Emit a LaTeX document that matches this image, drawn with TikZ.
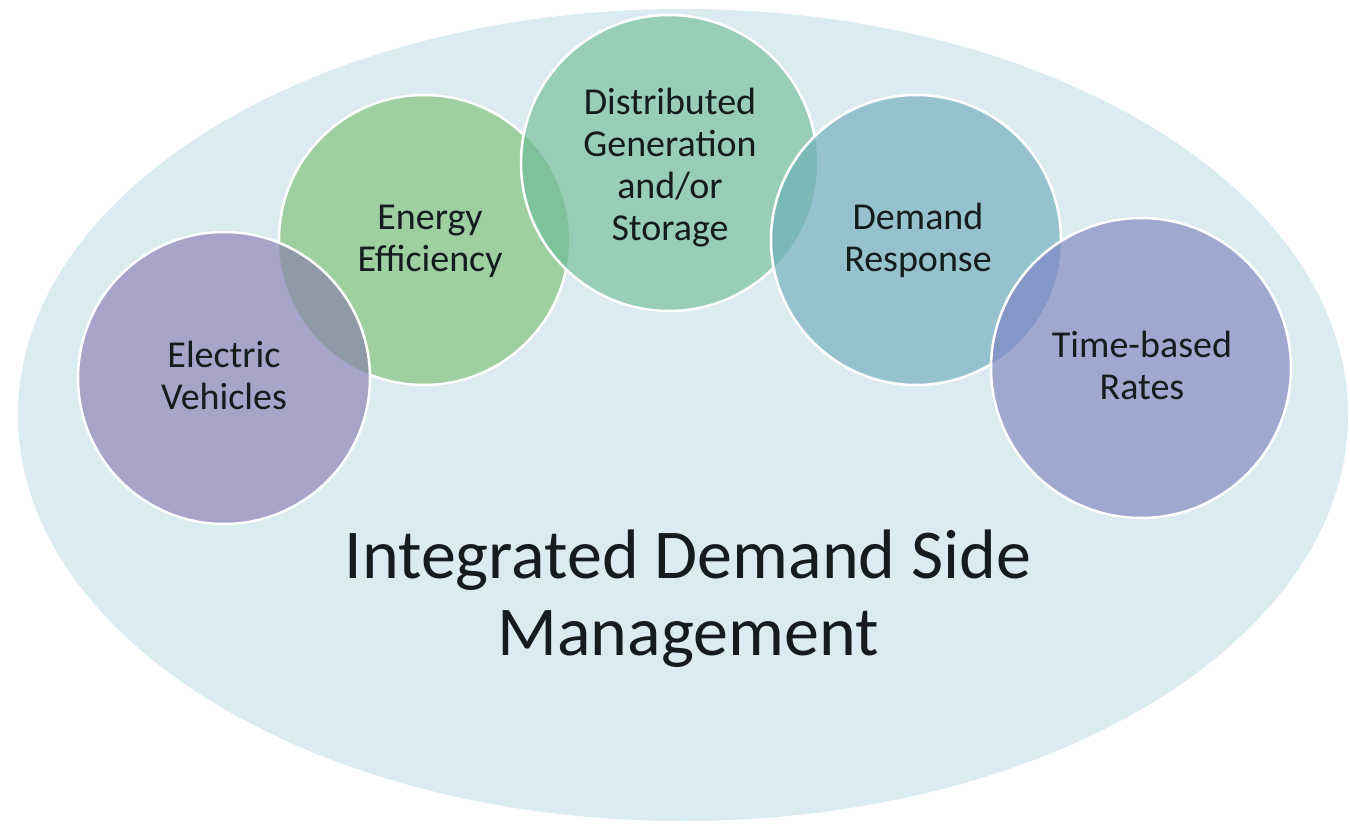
\documentclass[tikz,border=0pt]{standalone}
\usepackage{fontspec}
\setmainfont{Carlito}
\definecolor{bgell}{RGB}{219,236,241}
\definecolor{cev}{RGB}{168,163,201}
\definecolor{cee}{RGB}{157,207,160}
\definecolor{cdg}{RGB}{152,205,184}
\definecolor{cdr}{RGB}{150,194,206}
\definecolor{ctr}{RGB}{159,169,207}
\definecolor{lensA}{RGB}{143,154,168}
\definecolor{lensB}{RGB}{125,194,152}
\definecolor{lensC}{RGB}{123,185,185}
\definecolor{lensD}{RGB}{133,151,198}
\definecolor{txt}{RGB}{20,28,30}
\begin{document}
\begin{tikzpicture}[x=1pt,y=-1pt,
  disc/.style={white, line width=2.5pt},
  lbl/.style={font=\fontsize{38}{42}\selectfont, align=center, text=txt, inner sep=0pt},
  ttl/.style={font=\fontsize{70}{77}\selectfont, align=center, text=txt, inner sep=0pt}]
\useasboundingbox (0,0) rectangle (1350,826);
\fill[white] (0,0) rectangle (1350,826);
\coordinate (ell) at (683,415);
\coordinate (ev) at (224,378);
\coordinate (ee) at (424,240);
\coordinate (dg) at (669,163);
\coordinate (dr) at (916,240);
\coordinate (tr) at (1141,368);
\fill[bgell] (ell) ellipse [x radius=665pt, y radius=406pt];
% Energy Efficiency
\fill[cee] (ee) circle [radius=145pt];
\draw[disc] (ee) circle [radius=145pt];
% Electric Vehicles
\fill[cev] (ev) circle [radius=146pt];
\begin{scope}
  \clip (ee) circle [radius=145pt];
  \fill[lensA] (ev) circle [radius=146pt];
\end{scope}
\draw[disc] (ev) circle [radius=146pt];
% Distributed Generation
\fill[cdg] (dg) circle [radius=148pt];
\begin{scope}
  \clip (ee) circle [radius=145pt];
  \fill[lensB] (dg) circle [radius=148pt];
\end{scope}
\draw[disc] (dg) circle [radius=148pt];
% Demand Response
\fill[cdr] (dr) circle [radius=145pt];
\begin{scope}
  \clip (dg) circle [radius=148pt];
  \fill[lensC] (dr) circle [radius=145pt];
\end{scope}
\draw[disc] (dr) circle [radius=145pt];
% Time-based Rates
\fill[ctr] (tr) circle [radius=150pt];
\begin{scope}
  \clip (dr) circle [radius=145pt];
  \fill[lensD] (tr) circle [radius=150pt];
\end{scope}
\draw[disc] (tr) circle [radius=150pt];
% labels
\node[lbl] (tev) at (224,375) {Electric\\Vehicles};
\node[lbl] (tee) at (430,241) {Energy\\Efficiency};
\node[lbl] (tdg) at (670,168) {Distributed\\Generation\\and/or\\Storage};
\node[lbl] (tdr) at (918,240) {Demand\\Response};
\node[lbl] (ttr) at (1142,365) {Time-based\\Rates};
\node[ttl] (title) at (688,599) {Integrated Demand Side\\Management};
\end{tikzpicture}
\end{document}
